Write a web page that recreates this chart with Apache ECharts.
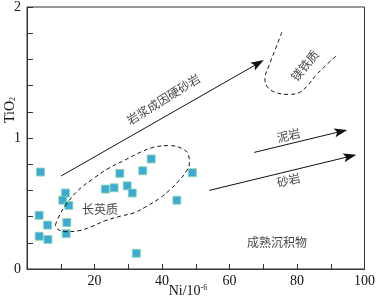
<!DOCTYPE html>
<html>
<head>
<meta charset="utf-8">
<script src="https://cdn.jsdelivr.net/npm/echarts@6/dist/echarts.min.js"></script>
<style>
  html, body { margin: 0; padding: 0; background: #fff; }
  #chart { width: 378px; height: 300px; }
</style>
</head>
<body>
<div id="chart"></div>
<script>
// sample points: Ni (10^-6) vs TiO2
const niValues = [4.0, 3.6, 6.1, 3.6, 6.2, 11.4, 10.6, 12.4, 11.8, 11.6,
  23.2, 25.8, 27.5, 29.7, 31.2, 34.3, 36.8, 32.4, 44.4, 49.0];
const tiValues = [0.74, 0.41, 0.335, 0.25, 0.225, 0.58, 0.525, 0.485, 0.355, 0.27,
  0.61, 0.62, 0.73, 0.635, 0.58, 0.75, 0.84, 0.12, 0.525, 0.735];

// 长英质 field outline
const felsicNi = [8.4, 9.5, 11.9, 15.3, 19.7, 24.0, 28.8, 33.6, 37.5, 42.3, 46.2, 47.9, 48.1,
  47.1, 45.2, 42.3, 39.4, 35.5, 31.7, 27.8, 23.0, 19.2, 15.3, 11.5, 9.0, 8.4];
const felsicTi = [0.335, 0.404, 0.504, 0.604, 0.691, 0.766, 0.829, 0.891, 0.929, 0.942, 0.916, 0.867, 0.804,
  0.742, 0.679, 0.604, 0.542, 0.479, 0.429, 0.404, 0.367, 0.324, 0.292, 0.285, 0.305, 0.335];

// 镁铁质 field outline
const maficNi = [75.5, 73.6, 71.7, 70.5, 71.2, 73.6, 77.5, 80.8, 83.2, 85.6, 88.5, 91.9];
const maficTi = [1.807, 1.678, 1.553, 1.453, 1.391, 1.348, 1.333, 1.348, 1.403, 1.478, 1.553, 1.633];

// trend arrows: start / end
const arrowStartNi = [10.1, 67.3, 54.0];
const arrowStartTi = [0.71, 0.89, 0.60];
const arrowEndNi = [68.5, 93.0, 95.7];
const arrowEndTi = [1.57, 1.05, 0.86];

// annotation texts and anchors
const noteText = ['岩浆成因硬砂岩', '镁铁质', '泥岩', '砂岩', '长英质', '成熟沉积物'];
const noteNi = [40.4, 82.3, 77.5, 77.5, 21.6, 74.1];
const noteTi = [1.296, 1.553, 1.021, 0.679, 0.455, 0.204];
const noteRotate = [32, 50, 13, 13, 0, 0];

const xTicks = [20, 40, 60, 80, 100];
const yTicks = [0, 1, 2];

const chart = echarts.init(document.getElementById('chart'), null, { renderer: 'canvas' });

const serif = '"Liberation Serif", "DejaVu Serif", serif';
const cjk = '"Noto Sans CJK SC", sans-serif';
const ink = '#111';

const zip = (a, b) => a.map((v, i) => [v, b[i]]);

const option = {
  backgroundColor: '#fff',
  animation: false,
  grid: {
    left: 27, right: 4, top: 2, bottom: 31,
    show: true, borderColor: '#333', borderWidth: 1
  },
  xAxis: {
    type: 'value', min: 0, max: 100, interval: 10,
    axisLine: { lineStyle: { color: '#333' } },
    axisTick: { inside: true, length: 5, lineStyle: { color: '#333' } },
    splitLine: { show: false },
    axisLabel: {
      color: ink, fontFamily: serif, fontSize: 14, margin: 5,
      formatter: v => (xTicks.includes(v) ? String(v) : '')
    }
  },
  yAxis: {
    type: 'value', min: 0, max: 2, interval: 0.2,
    axisLine: { lineStyle: { color: '#333' } },
    axisTick: { inside: true, length: 6, lineStyle: { color: '#333' } },
    splitLine: { show: false },
    axisLabel: {
      color: ink, fontFamily: serif, fontSize: 14, margin: 6,
      formatter: v => (yTicks.some(t => Math.abs(t - v) < 1e-6) ? String(Math.round(v)) : '')
    }
  },
  graphic: [
    {
      type: 'text', x: 3, y: 110, rotation: Math.PI / 2,
      style: {
        text: 'TiO{s|2}', fill: ink, font: '14px ' + serif,
        textAlign: 'center', textVerticalAlign: 'top',
        rich: { s: { fontSize: 8, fontFamily: serif, verticalAlign: 'bottom', padding: [6, 0, 0, 0] } }
      }
    },
    {
      type: 'text', x: 188, y: 284,
      style: {
        text: 'Ni/10{p|-6}', fill: ink, font: '14px ' + serif,
        textAlign: 'center',
        rich: { p: { fontSize: 8, fontFamily: serif, verticalAlign: 'top', padding: [0, 0, 6, 0] } }
      }
    }
  ],
  series: [
    {
      type: 'line', data: zip(felsicNi, felsicTi), smooth: 0.4, symbol: 'none', silent: true,
      lineStyle: { color: ink, width: 1, type: [4, 3] }
    },
    {
      type: 'line', data: zip(maficNi, maficTi), smooth: 0.4, symbol: 'none', silent: true,
      lineStyle: { color: ink, width: 1, type: [4, 3] }
    },
    {
      type: 'line', data: [], silent: true,
      markLine: {
        silent: true, animation: false,
        symbol: ['none', 'path://M0,0 L5,14 L0,11 L-5,14 Z'], symbolSize: [9, 13],
        label: { show: false },
        lineStyle: { color: '#111', width: 1, type: 'solid' },
        emphasis: { disabled: true },
        data: arrowStartNi.map((n, i) => [
          { coord: [n, arrowStartTi[i]] },
          { coord: [arrowEndNi[i], arrowEndTi[i]] }
        ])
      }
    },
    {
      type: 'scatter', data: zip(niValues, tiValues), symbol: 'rect', symbolSize: 8,
      itemStyle: { color: '#0a96cc', borderColor: '#8fd6a6', borderWidth: 1 }
    },
    {
      type: 'scatter', silent: true, symbolSize: 1,
      itemStyle: { color: 'rgba(0,0,0,0)' },
      label: {
        show: true, position: 'inside', color: ink, fontFamily: cjk, fontSize: 12,
        formatter: p => noteText[p.dataIndex]
      },
      data: noteNi.map((n, i) => ({
        value: [n, noteTi[i]],
        label: { rotate: noteRotate[i] }
      }))
    }
  ]
};

chart.setOption(option);
</script>
</body>
</html>
